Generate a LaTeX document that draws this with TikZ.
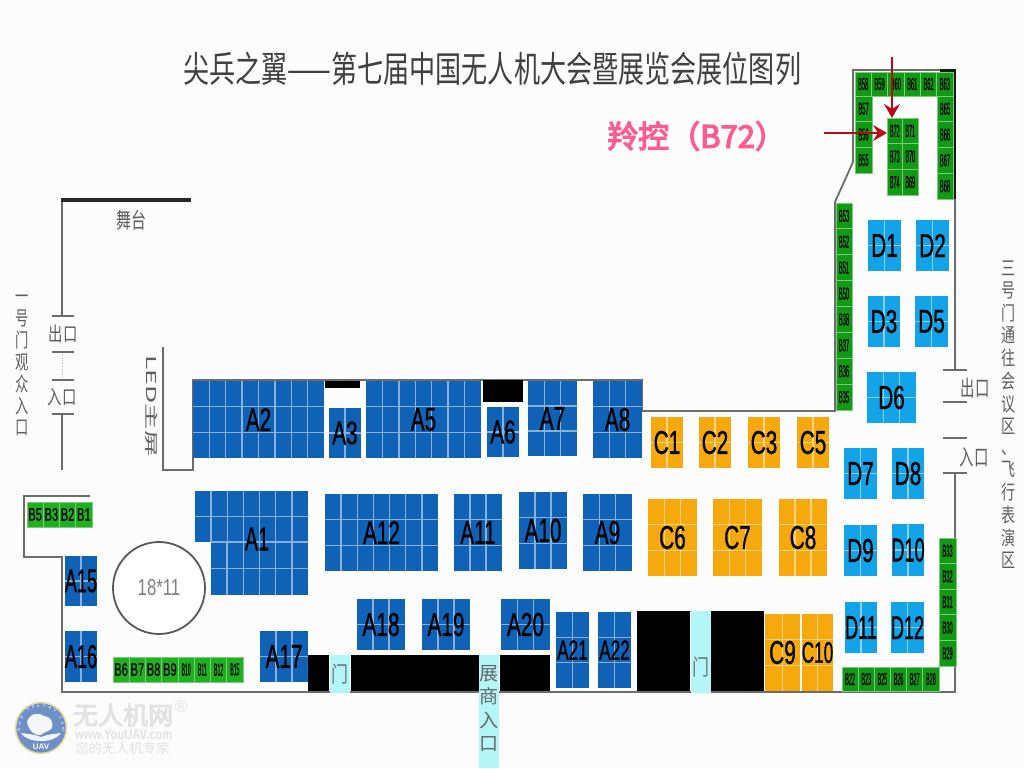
\documentclass[tikz,border=0pt]{standalone}
\usepackage{fontspec}
\usepackage{graphicx}
\setmainfont{Liberation Sans}
\newfontfamily\cjk{Noto Sans CJK SC}
\newfontfamily\cjkfat[FakeBold=4]{Noto Sans CJK SC}
\newfontfamily\lblfont[FakeBold=1]{Liberation Sans}
\usetikzlibrary{arrows.meta,decorations.text}
\definecolor{ablue}{HTML}{0F62B6}
\definecolor{dblue}{HTML}{12A3E8}
\definecolor{corange}{HTML}{F6A90C}
\definecolor{bgreen}{HTML}{119A14}
\definecolor{lgreen}{HTML}{1FB020}
\definecolor{sepgreen}{HTML}{7CCB7C}
\definecolor{wallc}{HTML}{6C6C6C}
\definecolor{doorc}{HTML}{B2F6F8}
\definecolor{graytxt}{HTML}{5E5E5E}
\definecolor{pinkt}{HTML}{FF5C8D}
\definecolor{arrowc}{HTML}{B80A14}
\definecolor{wm}{HTML}{E2E2E2}
\definecolor{logoblue}{HTML}{6F90C6}
\definecolor{logorim}{HTML}{E9DDA0}
\tikzset{
  wall/.style={draw=wallc,line width=1.8pt,line join=miter},
  tick/.style={draw=wallc,line width=2pt},
  gridln/.style={line width=1.4pt},
  boothbox/.style={inner sep=0pt,outer sep=0pt,draw=none},
  boothtxt/.style={inner sep=0pt,text=black,font=\lblfont\fontsize{33}{33}\selectfont},
  cellbig/.style={inner sep=0pt,outer sep=0pt,draw=sepgreen,line width=.6pt,text=black,font=\lblfont\fontsize{18}{18}\selectfont},
  celltiny/.style={inner sep=0pt,outer sep=0pt,draw=sepgreen,line width=.9pt,text=black,font=\lblfont\fontsize{15}{15}\selectfont},
  graylabel/.style={inner sep=0pt,text=graytxt,font=\cjk},
  doorbox/.style={fill=doorc,draw=none},
  blocked/.style={fill=black,draw=none},
  marker/.style={draw=arrowc,line width=2.5pt,-{Stealth[length=14pt,width=16pt,inset=5pt]}},
}
\newcommand\ls{\scalebox{.63}[1]}
\newcommand\lsn{\scalebox{.55}[1]}
\newcommand\lss{\scalebox{.52}[.85]}
\newcommand\tinyv{\scalebox{.38}[1.15]}
\newcommand\stackv[1]{\begin{tabular}{@{}c@{}}#1\end{tabular}}
% name x0 y0 x1 y1 cols rows colour
\newcommand\plainbooth[8]{%
  \pgfmathsetmacro\bw{#4-#2}\pgfmathsetmacro\bh{#5-#3}%
  \pgfmathsetmacro\bx{(#2+#4)/2}\pgfmathsetmacro\by{(#3+#5)/2}%
  \node[boothbox,fill=#8,minimum width=\bw pt,minimum height=\bh pt] (#1) at (\bx,\by) {};
  \ifnum#6>1 \pgfmathtruncatemacro\lastc{#6-1}%
    \foreach \i in {1,...,\lastc}{\pgfmathsetmacro\gx{#2+(#4-#2)*\i/#6}\draw[gridln,draw=#8!50!white] (\gx,#3) -- (\gx,#5);}\fi
  \ifnum#7>1 \pgfmathtruncatemacro\lastr{#7-1}%
    \foreach \i in {1,...,\lastr}{\pgfmathsetmacro\gy{#3+(#5-#3)*\i/#7}\draw[gridln,draw=#8!50!white] (#2,\gy) -- (#4,\gy);}\fi
}
\newcommand\booth[9]{\plainbooth{#1}{#2}{#3}{#4}{#5}{#6}{#7}{#8}%
  \node[boothtxt] (#1-label) at (#1) {#9{#1}};}
% vertical strip: x0 x1 y0 y1 n style scale list
\newcommand\stripV[8]{%
  \pgfmathsetmacro\ch{(#4-#3)/#5}\pgfmathsetmacro\cw{#2-#1}\pgfmathsetmacro\cx{(#1+#2)/2}%
  \foreach \n [count=\k from 0] in {#8}{%
    \pgfmathsetmacro\cy{#3+(\k+.5)*\ch}%
    \node[#6,fill=bgreen,minimum width=\cw pt,minimum height=\ch pt] (\n) at (\cx,\cy) {#7{\n}};}}
% horizontal strip: x0 x1 y0 y1 n style scale list
\newcommand\stripH[8]{%
  \pgfmathsetmacro\cw{(#2-#1)/#5}\pgfmathsetmacro\ch{#4-#3}\pgfmathsetmacro\cy{(#3+#4)/2}%
  \foreach \n [count=\k from 0] in {#8}{%
    \pgfmathsetmacro\cx{#1+(\k+.5)*\cw}%
    \node[#6,minimum width=\cw pt,minimum height=\ch pt] (\n) at (\cx,\cy) {#7{\n}};}}
\begin{document}
\begin{tikzpicture}[x=1pt,y=-1pt]
\useasboundingbox (0,0) rectangle (1024,768);
\fill[white!99!black] (0,0) rectangle (1024,768);

% title
\node[anchor=west,inner sep=0pt,text=black!75,font=\cjk\fontsize{30}{30}\selectfont] (title) at (183,69) {\scalebox{.87}[1.2]{尖兵之翼——第七届中国无人机大会暨展览会展位图列}};

% walls
\draw[wall] (90,496) -- (24,496) -- (24,557) -- (62,557) -- (62,692) -- (955,692) -- (955,473);
\draw[wall] (955,370) -- (955,70) -- (853,70) -- (853,162) -- (835,202) -- (835,411) -- (642,411) -- (642,380) -- (193,380) -- (193,470) -- (163,470) -- (163,347);
\draw[wall] (62,200) -- (62,316);
\draw[wall] (62,414) -- (62,470);
\draw[black!85,line width=3.5pt] (61,200) -- (191,200);
\draw[black!90,line width=3.5pt] (954,70) -- (954,199);
\draw[black!90,line width=3.5pt] (940,70.5) -- (956,70.5);
\draw[wallc!50,line width=.8pt,dotted] (62,352) -- (62,380);
\foreach \ty in {316,352,380,414}{\draw[tick] (52,\ty) -- (74,\ty);}
\foreach \ty in {370,402,438,473}{\draw[tick] (943,\ty) -- (967,\ty);}

% blocked areas
\fill[blocked] (325,381) rectangle (360,388);
\fill[blocked] (483,380) rectangle (523,402);
\fill[blocked] (308,655) rectangle (329,691);
\fill[blocked] (351,655) rectangle (479,691);
\fill[blocked] (500,655) rectangle (550,691);
\fill[blocked] (637,611) rectangle (690,691);
\fill[blocked] (711,611) rectangle (764,691);
% doors
\fill[doorbox] (330,655) rectangle (350,693);
\fill[doorbox] (479,655) rectangle (499,768);
\fill[doorbox] (691,611) rectangle (711,693);

% A booths
\booth{A2}{193}{381}{324}{458}{8}{3}{ablue}{\ls}
\booth{A3}{329}{408}{361}{458}{2}{2}{ablue}{\ls}
\booth{A5}{366}{381}{481}{458}{7}{3}{ablue}{\ls}
\booth{A6}{487}{407}{519}{457}{2}{2}{ablue}{\ls}
\booth{A7}{528}{381}{577}{456}{3}{3}{ablue}{\ls}
\booth{A8}{593}{381}{642}{458}{3}{3}{ablue}{\ls}
\plainbooth{A1top}{195}{491}{308}{542}{7}{2}{ablue}
\plainbooth{A1low}{211}{542}{308}{595}{6}{2}{ablue}
\draw[gridln,draw=ablue!50!white] (211,542) -- (308,542);
\node[boothtxt] (A1) at (257,539) {\scalebox{.6}[1]{A1}};
\plainbooth{A12box}{325}{494}{438}{571}{7}{3}{ablue}
\draw[ablue,line width=1.9pt] (381.5,494) -- (381.5,518.8) (381.5,520.6) -- (381.5,544.4) (381.5,546.2) -- (381.5,571);
\node[boothtxt] (A12) at (A12box) {\ls{A12}};
\booth{A11}{454}{494}{502}{571}{3}{3}{ablue}{\ls}
\booth{A10}{519}{492}{567}{569}{3}{3}{ablue}{\ls}
\booth{A9}{583}{494}{632}{571}{3}{3}{ablue}{\ls}
\booth{A15}{65}{556}{97}{606}{2}{2}{ablue}{\lsn}
\booth{A16}{65}{631}{97}{682}{2}{2}{ablue}{\lsn}
\booth{A17}{260}{631}{308}{682}{3}{2}{ablue}{\ls}
\booth{A18}{357}{599}{405}{650}{3}{2}{ablue}{\ls}
\booth{A19}{422}{599}{470}{650}{3}{2}{ablue}{\ls}
\booth{A20}{501}{599}{550}{650}{3}{2}{ablue}{\ls}
\booth{A21}{556}{612}{589}{688}{2}{3}{ablue}{\lss}
\booth{A22}{598}{612}{631}{688}{2}{3}{ablue}{\lss}

% C booths
\booth{C1}{651}{417}{683}{468}{2}{2}{corange}{\ls}
\booth{C2}{699}{417}{731}{468}{2}{2}{corange}{\ls}
\booth{C3}{748}{417}{780}{468}{2}{2}{corange}{\ls}
\booth{C5}{797}{417}{829}{468}{2}{2}{corange}{\ls}
\booth{C6}{648}{499}{697}{576}{3}{3}{corange}{\ls}
\booth{C7}{713}{499}{762}{576}{3}{3}{corange}{\ls}
\booth{C8}{779}{499}{827}{576}{3}{3}{corange}{\ls}
\booth{C9}{765}{614}{800}{691}{2}{3}{corange}{\ls}
\booth{C10}{802}{614}{833}{691}{2}{3}{corange}{\scalebox{.52}[.9]}

% D booths
\booth{D1}{868}{220}{901}{271}{2}{2}{dblue}{\ls}
\booth{D2}{916}{220}{949}{271}{2}{2}{dblue}{\ls}
\booth{D3}{868}{296}{900}{347}{2}{2}{dblue}{\ls}
\booth{D5}{915}{296}{948}{347}{2}{2}{dblue}{\ls}
\booth{D6}{867}{372}{916}{423}{3}{2}{dblue}{\ls}
\booth{D7}{844}{448}{877}{499}{2}{2}{dblue}{\ls}
\booth{D8}{892}{448}{924}{499}{2}{2}{dblue}{\ls}
\booth{D9}{844}{525}{877}{576}{2}{2}{dblue}{\ls}
\booth{D10}{892}{524}{924}{576}{2}{2}{dblue}{\lsn}
\booth{D11}{845}{602}{877}{653}{2}{2}{dblue}{\lsn}
\booth{D12}{891}{602}{924}{653}{2}{2}{dblue}{\lsn}

% green strips
\stripH{27}{92}{502}{527}{4}{cellbig,fill=lgreen}{\scalebox{.62}[1]}{B5,B3,B2,B1}
\stripH{113}{178}{657}{682}{4}{cellbig,fill=lgreen,font=\lblfont\fontsize{18}{18}\selectfont}{\scalebox{.62}[1]}{B6,B7,B8,B9}
\stripH{178}{243}{657}{682}{4}{celltiny,fill=lgreen}{\scalebox{.34}[1.15]}{B10,B11,B12,B15}
\stripV{855}{872}{96}{173}{3}{celltiny}{\tinyv}{B57,B56,B55}
\stripH{855}{953}{72}{96}{6}{celltiny,fill=bgreen}{\tinyv}{B58,B59,B60,B61,B62,B63}
\stripV{937}{953}{96}{199}{4}{celltiny}{\tinyv}{B65,B66,B67,B68}
\stripV{887}{902.5}{118}{195}{3}{celltiny}{\scalebox{.36}[1.15]}{B72,B73,B74}
\stripV{902.5}{918}{118}{195}{3}{celltiny}{\scalebox{.36}[1.15]}{B71,B70,B69}
\stripV{836}{852}{203}{410}{8}{celltiny}{\tinyv}{B53,B52,B51,B50,B38,B37,B36,B35}
\stripV{939}{956}{538}{666}{5}{celltiny}{\tinyv}{B33,B32,B31,B30,B29}
\stripH{842}{939}{667}{691}{6}{celltiny,fill=bgreen}{\scalebox{.36}[1.15]}{B22,B23,B25,B26,B27,B28}

% arena
\node[circle,draw=black!65,line width=1.8pt,fill=white,minimum size=92pt,inner sep=0pt,text=black!50,font=\fontsize{21}{21}\selectfont] (arena) at (159,588) {\scalebox{.8}[1.1]{18*11}};

% grey labels
\node[graylabel,font=\cjk\fontsize{15}{15}\selectfont] (stage) at (131,220) {\scalebox{1}[1.45]{舞台}};
\node[graylabel,fill=white,font=\cjk\fontsize{18}{18}\selectfont] (exitL) at (63,334) {\scalebox{.8}[1.1]{出口}};
\node[graylabel,fill=white,font=\cjk\fontsize{18}{18}\selectfont] (entryL) at (62,397) {\scalebox{.8}[1.1]{入口}};
\node[graylabel,font=\cjk\fontsize{14}{14.3}\selectfont] (gate1) at (22,365) {\scalebox{.95}[1.4]{\stackv{一\\号\\门\\观\\众\\入\\口}}};
\node[graylabel,rotate=-90,font=\cjk\fontsize{16}{16}\selectfont] (ledscreen) at (152,406) {\scalebox{1.65}[.85]{LED主屏}};
\node[graylabel,font=\cjk\fontsize{20}{20}\selectfont] (exitR) at (975,388) {\scalebox{.72}[1.1]{出口}};
\node[graylabel,font=\cjk\fontsize{20}{20}\selectfont] (entryR) at (974,457) {\scalebox{.72}[1.1]{入口}};
\node[graylabel,font=\cjk\fontsize{14}{15.4}\selectfont] (gate3) at (1008,417) {\scalebox{1}[1.4]{\stackv{三\\号\\门\\通\\往\\会\\议\\区\\、\\飞\\行\\表\\演\\区}}};
\node[graylabel,text=black!55,font=\cjk\fontsize{17}{17}\selectfont] (doorA) at (340,674) {\scalebox{1}[1.3]{门}};
\node[graylabel,text=black!55,font=\cjk\fontsize{17}{17}\selectfont] (doorB) at (701,667) {\scalebox{1}[1.3]{门}};
\node[graylabel,text=black!60,font=\cjk\fontsize{19}{23.5}\selectfont] (expoentry) at (489,711) {\stackv{展\\商\\入\\口}};

% marker text and arrows
\node[anchor=west,inner sep=0pt,text=pinkt,font=\cjkfat\fontsize{31}{31}\selectfont] (maker) at (607,136) {羚控（B72）};
\coordinate (arrowTop) at (892,57);
\coordinate (arrowLeft) at (824,133);
\draw[marker] (arrowTop) -- (arrowTop |- B72.north);
\draw[marker] (arrowLeft) -- (arrowLeft -| B72.west);

% watermark logo
\node[circle,draw=logorim,line width=1.6pt,fill=logoblue,minimum size=51pt,inner sep=0pt] (logo) at (41,728) {};
\fill[white!92!logoblue] (27,722) .. controls (30,713) and (38,712) .. (44,716) .. controls (50,716) and (54,722) .. (52,728) .. controls (48,733) and (44,731) .. (41,735) .. controls (36,736) and (29,732) .. (27,722) -- cycle;
\fill[white!90!logoblue] (41,737) .. controls (34,734) and (27,734) .. (21,733) .. controls (25,739) and (33,741) .. (41,741) .. controls (49,741) and (57,739) .. (61,733) .. controls (55,734) and (48,734) .. (41,737) -- cycle;
\node[inner sep=0pt,text=white,font=\bfseries\fontsize{8}{8}\selectfont] (logouav) at (41,746.5) {UAV};
\path[decorate,decoration={text along path,text align={fit to path},text color=white,text={|\fontsize{4.5}{5}\selectfont|www.YouUAV.com}}] (20,731) .. controls (20,714) and (31,707) .. (41,707) .. controls (51,707) and (62,714) .. (62,731);
\node[anchor=west,inner sep=0pt,text=wm,font=\cjkfat\fontsize{25}{25}\selectfont] (wm1) at (73,715) {无人机网};
\node[inner sep=0pt,text=wm,font=\fontsize{17}{17}\selectfont] (wmreg) at (181,707) {®};
\node[anchor=west,inner sep=0pt,text=wm,font=\bfseries\fontsize{14}{14}\selectfont] (wm2) at (75,735) {\scalebox{.8}[1]{www.YouUAV.com}};
\node[anchor=west,inner sep=0pt,text=wm,font=\cjk\fontsize{13.5}{14}\selectfont] (wm3) at (75,748) {您的无人机专家};
\end{tikzpicture}
\end{document}
